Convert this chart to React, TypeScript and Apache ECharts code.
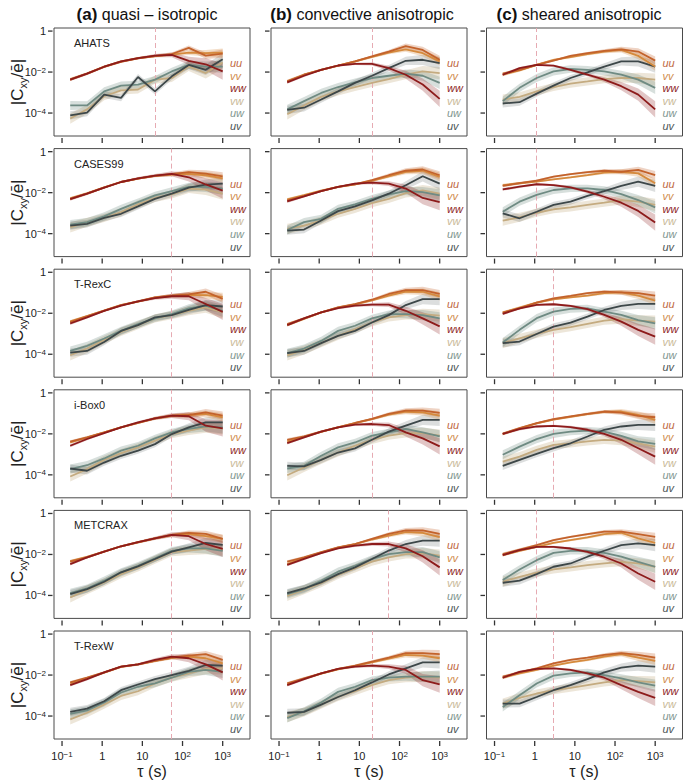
import React, { useEffect, useRef } from 'react';
import * as echarts from 'echarts';

// ---------- data ----------
const TAU = [0.16, 0.42, 1.12, 2.95, 7.8, 20.6, 54, 143, 378, 1000]; // s
const COMPONENTS = ['uu', 'vv', 'ww', 'vw', 'uw', 'uv'];
const DATASETS = ['AHATS', 'CASES99', 'T-RexC', 'i-Box0', 'METCRAX', 'T-RexW'];
const COLUMN_TAGS = ['(a)', '(b)', '(c)'];
const COLUMN_NAMES = ['quasi – isotropic', 'convective anisotropic', 'sheared anisotropic'];
const X_TICKS = [-1, 0, 1, 2, 3]; // log10 tau
const Y_TICKS = [-4, -2, 0]; // log10 |C|
// reference time scale (dashed line) per row, per column
const REF_TAU = [
  [20.6, 20.6, 1.12],
  [54, 20.6, 1.12],
  [54, 20.6, 2.95],
  [54, 20.6, 2.95],
  [54, 54, 1.12],
  [54, 20.6, 2.95],
];

// values are log10 |C_xy / e|, order: uu, vv, ww, vw, uw, uv
const AHATS_QI = [
  [-2.37, -2.08, -1.75, -1.5, -1.33, -1.22, -1.12, -0.82, -1.2, -1.1],
  [-2.35, -2.07, -1.73, -1.48, -1.32, -1.22, -1.15, -1.05, -1.08, -1.05],
  [-2.37, -2.08, -1.74, -1.48, -1.32, -1.2, -1.16, -1.45, -1.62, -1.97],
  [-4.27, -3.82, -3.18, -2.89, -2.85, -2.37, -2.29, -1.73, -2.05, -1.53],
  [-3.63, -3.63, -2.94, -2.66, -2.61, -2.37, -1.97, -1.65, -1.73, -1.73],
  [-4.11, -3.98, -3.1, -3.26, -2.24, -2.94, -2.21, -1.65, -1.89, -1.37],
];
const AHATS_CA = [
  [-2.45, -2.13, -1.89, -1.69, -1.48, -1.24, -1.0, -0.73, -0.92, -1.4],
  [-2.45, -2.13, -1.89, -1.69, -1.48, -1.26, -1.05, -0.89, -1.08, -1.48],
  [-2.5, -2.18, -1.89, -1.68, -1.6, -1.6, -1.81, -2.13, -2.61, -3.31],
  [-4.06, -3.63, -3.21, -2.94, -2.73, -2.53, -2.34, -2.13, -1.97, -2.05],
  [-3.82, -3.42, -3.02, -2.73, -2.5, -2.29, -2.18, -2.08, -2.18, -2.53],
  [-3.85, -3.74, -3.34, -2.94, -2.53, -2.18, -1.81, -1.45, -1.4, -1.56],
];
const AHATS_SA = [
  [-2.08, -1.89, -1.65, -1.44, -1.21, -1.08, -0.97, -0.89, -1.0, -1.44],
  [-2.13, -1.92, -1.65, -1.4, -1.27, -1.13, -1.0, -0.92, -1.21, -1.73],
  [-2.13, -1.81, -1.65, -1.69, -1.89, -2.13, -2.37, -2.69, -3.1, -3.82],
  [-3.34, -3.21, -2.94, -2.73, -2.56, -2.45, -2.34, -2.29, -2.29, -2.37],
  [-3.42, -2.77, -2.29, -1.97, -1.85, -1.89, -1.97, -2.13, -2.37, -2.77],
  [-3.53, -3.47, -3.05, -2.66, -2.29, -2.02, -1.73, -1.48, -1.48, -1.73],
];
const CASES99_QI = [
  [-2.3, -2.05, -1.75, -1.48, -1.31, -1.18, -1.1, -1.0, -1.07, -1.2],
  [-2.28, -2.03, -1.74, -1.48, -1.31, -1.18, -1.12, -1.08, -1.15, -1.3],
  [-2.32, -2.05, -1.75, -1.48, -1.3, -1.17, -1.08, -1.25, -1.6, -1.9],
  [-3.69, -3.44, -3.23, -2.95, -2.57, -2.26, -2.08, -1.8, -1.85, -2.05],
  [-3.56, -3.44, -3.16, -2.79, -2.46, -2.13, -1.92, -1.72, -1.72, -1.8],
  [-3.61, -3.52, -3.23, -3.03, -2.67, -2.3, -2.05, -1.75, -1.61, -1.56],
];
const CASES99_CA = [
  [-2.38, -2.16, -1.92, -1.72, -1.59, -1.39, -1.15, -0.93, -0.87, -1.15],
  [-2.33, -2.12, -1.9, -1.72, -1.6, -1.42, -1.2, -0.98, -0.93, -1.23],
  [-2.43, -2.18, -1.92, -1.72, -1.56, -1.51, -1.56, -1.8, -2.26, -2.46],
  [-3.77, -3.61, -3.36, -3.03, -2.79, -2.51, -2.3, -2.02, -1.89, -2.05],
  [-3.82, -3.44, -3.28, -2.79, -2.57, -2.3, -2.08, -1.92, -1.97, -2.13],
  [-3.85, -3.8, -3.36, -2.9, -2.67, -2.38, -2.05, -1.64, -1.2, -1.56],
];
const CASES99_SA = [
  [-1.67, -1.54, -1.41, -1.22, -1.1, -1.0, -0.93, -0.98, -0.89, -1.14],
  [-1.63, -1.54, -1.46, -1.35, -1.25, -1.14, -1.02, -0.98, -1.06, -1.54],
  [-1.84, -1.71, -1.59, -1.63, -1.74, -1.95, -2.2, -2.49, -2.89, -3.46],
  [-3.37, -3.2, -2.98, -2.81, -2.72, -2.6, -2.49, -2.36, -2.44, -2.6],
  [-2.93, -2.44, -2.11, -1.87, -1.79, -1.79, -1.87, -2.07, -2.36, -2.72],
  [-3.01, -3.25, -2.93, -2.6, -2.44, -2.16, -1.92, -1.67, -1.46, -1.67],
];
const TREXC_QI = [
  [-2.43, -2.15, -1.87, -1.6, -1.42, -1.23, -1.14, -1.08, -0.95, -1.3],
  [-2.4, -2.14, -1.87, -1.6, -1.43, -1.24, -1.15, -1.1, -1.12, -1.2],
  [-2.5, -2.2, -1.88, -1.63, -1.42, -1.26, -1.17, -1.17, -1.55, -1.93],
  [-4.05, -3.72, -3.3, -2.91, -2.58, -2.25, -2.09, -1.88, -1.71, -1.96],
  [-3.84, -3.59, -3.23, -2.86, -2.53, -2.25, -2.04, -1.76, -1.63, -1.88],
  [-3.92, -3.84, -3.4, -2.86, -2.58, -2.2, -2.09, -1.83, -1.6, -1.67],
];
const TREXC_CA = [
  [-2.53, -2.25, -1.96, -1.71, -1.55, -1.34, -1.06, -0.87, -0.87, -1.06],
  [-2.58, -2.27, -1.96, -1.72, -1.57, -1.37, -1.14, -0.95, -0.95, -1.18],
  [-2.58, -2.25, -1.96, -1.75, -1.63, -1.58, -1.58, -1.88, -2.25, -2.64],
  [-4.05, -3.79, -3.46, -3.1, -2.78, -2.45, -2.2, -2.09, -2.04, -2.12],
  [-3.95, -3.72, -3.35, -2.86, -2.61, -2.25, -2.04, -2.04, -2.09, -2.25],
  [-3.95, -3.84, -3.46, -3.1, -2.86, -2.45, -2.09, -1.6, -1.31, -1.31],
];
const TREXC_SA = [
  [-1.97, -1.76, -1.48, -1.27, -1.15, -1.02, -0.94, -0.98, -1.02, -1.14],
  [-1.97, -1.72, -1.48, -1.32, -1.22, -1.14, -1.02, -0.98, -1.14, -1.38],
  [-2.03, -1.76, -1.59, -1.56, -1.64, -1.8, -2.08, -2.41, -2.81, -3.14],
  [-3.46, -3.22, -3.01, -2.81, -2.68, -2.52, -2.36, -2.29, -2.36, -2.41],
  [-3.43, -2.81, -2.24, -1.92, -1.79, -1.76, -1.92, -2.08, -2.33, -2.49],
  [-3.46, -3.38, -3.01, -2.65, -2.46, -2.16, -1.84, -1.64, -1.54, -1.54],
];
const IBOX_QI = [
  [-2.38, -2.17, -1.93, -1.68, -1.47, -1.24, -1.11, -1.08, -0.95, -1.11],
  [-2.41, -2.18, -1.93, -1.68, -1.47, -1.25, -1.12, -1.08, -1.03, -1.19],
  [-2.58, -2.25, -1.96, -1.68, -1.44, -1.24, -1.11, -1.14, -1.6, -1.73],
  [-4.08, -3.72, -3.27, -2.94, -2.66, -2.33, -2.01, -1.84, -1.68, -1.73],
  [-3.72, -3.53, -3.2, -2.82, -2.58, -2.22, -1.93, -1.76, -1.63, -1.68],
  [-3.69, -3.8, -3.4, -3.07, -2.82, -2.5, -2.01, -1.68, -1.44, -1.44],
];
const IBOX_CA = [
  [-2.29, -2.12, -1.89, -1.68, -1.47, -1.27, -1.03, -0.87, -0.87, -0.98],
  [-2.38, -2.15, -1.9, -1.68, -1.48, -1.28, -1.06, -0.92, -0.95, -1.11],
  [-2.45, -2.17, -1.89, -1.68, -1.55, -1.52, -1.57, -1.93, -2.22, -2.61],
  [-4.02, -3.64, -3.27, -2.91, -2.58, -2.29, -2.09, -1.96, -1.96, -2.09],
  [-3.69, -3.56, -3.07, -2.66, -2.42, -2.09, -1.93, -1.76, -1.93, -2.12],
  [-3.56, -3.59, -3.27, -2.91, -2.71, -2.29, -1.89, -1.6, -1.32, -1.32],
];
const IBOX_SA = [
  [-2.0, -1.72, -1.48, -1.28, -1.15, -1.02, -0.91, -0.96, -1.12, -1.19],
  [-2.0, -1.74, -1.49, -1.3, -1.17, -1.04, -0.93, -0.91, -1.07, -1.32],
  [-2.0, -1.77, -1.64, -1.61, -1.67, -1.8, -2.0, -2.29, -2.7, -3.11],
  [-3.35, -3.11, -2.78, -2.54, -2.46, -2.37, -2.29, -2.33, -2.46, -2.62],
  [-3.02, -2.62, -2.26, -2.0, -1.89, -1.84, -1.89, -2.1, -2.37, -2.49],
  [-3.56, -3.27, -2.98, -2.7, -2.46, -2.13, -1.8, -1.64, -1.56, -1.56],
];
const METCRAX_QI = [
  [-2.35, -2.14, -1.86, -1.6, -1.4, -1.21, -1.04, -0.95, -1.0, -1.24],
  [-2.33, -2.12, -1.86, -1.6, -1.41, -1.22, -1.06, -1.0, -1.11, -1.24],
  [-2.47, -2.14, -1.86, -1.6, -1.4, -1.21, -1.04, -1.11, -1.49, -1.73],
  [-4.1, -3.72, -3.36, -2.96, -2.63, -2.25, -1.89, -1.81, -1.73, -1.76],
  [-3.89, -3.66, -3.28, -2.87, -2.55, -2.19, -1.82, -1.7, -1.7, -1.82],
  [-3.93, -3.69, -3.33, -2.87, -2.58, -2.22, -1.86, -1.65, -1.44, -1.53],
];
const METCRAX_CA = [
  [-2.35, -2.14, -1.89, -1.65, -1.49, -1.24, -1.0, -0.83, -0.83, -1.0],
  [-2.47, -2.16, -1.91, -1.67, -1.5, -1.27, -1.08, -0.91, -0.95, -1.16],
  [-2.51, -2.22, -1.93, -1.7, -1.57, -1.49, -1.49, -1.7, -2.09, -2.63],
  [-4.02, -3.72, -3.4, -3.0, -2.68, -2.35, -2.14, -1.98, -1.94, -2.06],
  [-3.93, -3.69, -3.28, -2.84, -2.55, -2.22, -1.98, -1.89, -1.89, -2.14],
  [-3.89, -3.66, -3.36, -2.96, -2.63, -2.22, -1.81, -1.49, -1.32, -1.32],
];
const METCRAX_SA = [
  [-1.98, -1.76, -1.54, -1.3, -1.14, -1.01, -0.89, -0.89, -1.01, -1.14],
  [-2.03, -1.82, -1.63, -1.43, -1.3, -1.17, -1.01, -0.94, -1.22, -1.43],
  [-2.03, -1.79, -1.63, -1.63, -1.71, -1.87, -2.11, -2.44, -2.93, -3.33],
  [-3.33, -3.09, -2.89, -2.73, -2.63, -2.52, -2.44, -2.36, -2.44, -2.6],
  [-3.25, -2.73, -2.28, -1.92, -1.82, -1.82, -1.92, -2.11, -2.36, -2.6],
  [-3.38, -3.28, -2.96, -2.6, -2.44, -2.11, -1.82, -1.54, -1.46, -1.54],
];
const TREXW_QI = [
  [-2.36, -2.13, -1.87, -1.59, -1.48, -1.31, -1.15, -1.05, -0.98, -1.26],
  [-2.41, -2.15, -1.88, -1.6, -1.48, -1.31, -1.16, -1.1, -1.18, -1.43],
  [-2.49, -2.2, -1.87, -1.59, -1.48, -1.26, -1.1, -1.18, -1.48, -1.87],
  [-4.16, -3.84, -3.44, -3.02, -2.79, -2.41, -2.13, -1.92, -1.7, -1.67],
  [-3.89, -3.72, -3.34, -2.85, -2.57, -2.41, -2.13, -1.84, -1.75, -1.84],
  [-3.8, -3.64, -3.28, -2.74, -2.46, -2.2, -2.0, -1.8, -1.51, -1.54],
];
const TREXW_CA = [
  [-2.41, -2.16, -1.92, -1.7, -1.54, -1.34, -1.15, -0.93, -0.93, -0.98],
  [-2.46, -2.18, -1.93, -1.72, -1.56, -1.38, -1.2, -1.02, -1.05, -1.18],
  [-2.49, -2.2, -1.92, -1.7, -1.59, -1.54, -1.59, -1.75, -2.25, -2.46],
  [-4.05, -3.8, -3.44, -3.07, -2.79, -2.49, -2.25, -2.13, -2.08, -2.13],
  [-4.1, -3.77, -3.34, -2.82, -2.57, -2.25, -2.13, -2.08, -2.08, -2.08],
  [-3.84, -3.8, -3.44, -3.07, -2.74, -2.36, -1.97, -1.67, -1.38, -1.38],
];
const TREXW_SA = [
  [-2.08, -1.87, -1.67, -1.43, -1.26, -1.15, -1.02, -0.93, -1.02, -1.15],
  [-2.13, -1.92, -1.75, -1.54, -1.38, -1.26, -1.1, -0.98, -1.15, -1.31],
  [-2.13, -1.84, -1.7, -1.67, -1.75, -1.92, -2.13, -2.49, -2.82, -3.11],
  [-3.39, -3.11, -2.9, -2.74, -2.62, -2.49, -2.36, -2.25, -2.3, -2.36],
  [-3.56, -2.98, -2.41, -2.03, -1.92, -1.87, -2.0, -2.16, -2.36, -2.52],
  [-3.39, -3.39, -3.07, -2.74, -2.49, -2.2, -1.87, -1.64, -1.54, -1.59],
];

// uncertainty half-widths in decades, per component
const BAND_UU = [0.07, 0.06, 0.05, 0.05, 0.05, 0.06, 0.08, 0.12, 0.16, 0.2];
const BAND_VV = [0.07, 0.06, 0.05, 0.05, 0.05, 0.06, 0.08, 0.12, 0.16, 0.2];
const BAND_WW = [0.07, 0.06, 0.05, 0.05, 0.06, 0.08, 0.12, 0.2, 0.3, 0.4];
const BAND_VW = [0.25, 0.22, 0.2, 0.2, 0.2, 0.2, 0.2, 0.22, 0.26, 0.3];
const BAND_UW = [0.22, 0.2, 0.2, 0.2, 0.18, 0.18, 0.18, 0.2, 0.25, 0.3];
const BAND_UV = [0.2, 0.18, 0.16, 0.16, 0.15, 0.15, 0.16, 0.2, 0.25, 0.3];

const PANELS = [
  [AHATS_QI, AHATS_CA, AHATS_SA],
  [CASES99_QI, CASES99_CA, CASES99_SA],
  [TREXC_QI, TREXC_CA, TREXC_SA],
  [IBOX_QI, IBOX_CA, IBOX_SA],
  [METCRAX_QI, METCRAX_CA, METCRAX_SA],
  [TREXW_QI, TREXW_CA, TREXW_SA],
];
const BANDS = [BAND_UU, BAND_VV, BAND_WW, BAND_VW, BAND_UW, BAND_UV];

// ---------- styles ----------
const LINE_COLORS = ['#c3622b', '#d58a3d', '#8d1b1b', '#c4ab80', '#6f8b83', '#3d4749'];
const BAND_COLORS = [
  'rgba(195,98,43,0.28)',
  'rgba(213,138,61,0.28)',
  'rgba(141,27,27,0.25)',
  'rgba(196,171,128,0.3)',
  'rgba(111,139,131,0.28)',
  'rgba(61,71,73,0.18)',
];
const LABEL_COLORS = ['#c0693f', '#d08c4c', '#8d1b1b', '#c9b997', '#7f968f', '#4a5354'];
const DRAW_ORDER = [3, 4, 5, 1, 0, 2];

const FONT = '"Liberation Sans", Arial, Helvetica, sans-serif';
const COL_LEFT = [54, 271, 486.5];
const GRID_W = 196;
const ROW_TOP0 = 28;
const ROW_STEP = 120.6;
const GRID_H = 108;
const X_MIN = -1.2;
const X_MAX = 3.68;
const Y_MIN = -5.12;
const Y_MAX = 0.15;

function powLabel(v: number): string {
  if (v === 0) return '1';
  if (v === 1) return '10';
  const s = v < 0 ? '\u2212' + Math.abs(v) : String(v);
  return '10{s|' + s + '}';
}

const LABEL_RICH = {
  s: { fontSize: 8, verticalAlign: 'top', lineHeight: 12, fontFamily: FONT, color: '#222' },
};

function buildOption() {
  const grid: any[] = [];
  const xAxis: any[] = [];
  const yAxis: any[] = [];
  const series: any[] = [];
  const graphic: any[] = [];

  for (let r = 0; r < 6; r++) {
    for (let c = 0; c < 3; c++) {
      const idx = r * 3 + c;
      const top = ROW_TOP0 + ROW_STEP * r;
      const left = COL_LEFT[c];
      grid.push({
        left,
        top,
        width: GRID_W,
        height: GRID_H,
        show: true,
        borderColor: '#4a4a4a',
        borderWidth: 1,
        backgroundColor: 'transparent',
      });
      xAxis.push({
        type: 'value',
        gridIndex: idx,
        position: 'bottom',
        min: X_MIN,
        max: X_MAX,
        axisLine: { show: false, onZero: false },
        splitLine: { show: false },
        axisTick: { show: false },
        axisLabel: {
          show: r === 5,
          customValues: X_TICKS,
          formatter: (v: number) => powLabel(Math.round(v)),
          rich: LABEL_RICH,
          fontSize: 11,
          lineHeight: 12,
          color: '#222',
          fontFamily: FONT,
          margin: 11,
        },
      });
      yAxis.push({
        type: 'value',
        gridIndex: idx,
        position: 'left',
        min: Y_MIN,
        max: Y_MAX,
        axisLine: { show: false, onZero: false },
        splitLine: { show: false },
        axisTick: { show: false },
        axisLabel: {
          show: c === 0,
          customValues: Y_TICKS,
          formatter: (v: number) => powLabel(Math.round(v)),
          rich: LABEL_RICH,
          fontSize: 11,
          lineHeight: 12,
          color: '#222',
          fontFamily: FONT,
          margin: 8,
        },
      });

      const panel = PANELS[r][c];
      // tick marks (outward, offset from the box, R style), placed through the axes' scales
      series.push({
        type: 'custom',
        xAxisIndex: idx,
        yAxisIndex: idx,
        z: 4,
        silent: true,
        clip: false,
        data: [[0, -2]],
        renderItem: (_params: any, api: any) => {
          const children: any[] = [];
          X_TICKS.forEach((v) => {
            const p = api.coord([v, Y_MIN]);
            children.push({
              type: 'line',
              shape: { x1: p[0], y1: p[1] + 2, x2: p[0], y2: p[1] + 7 },
              style: { stroke: '#333333', lineWidth: 1.3 },
            });
          });
          Y_TICKS.forEach((v) => {
            const p = api.coord([X_MIN, v]);
            children.push({
              type: 'line',
              shape: { x1: p[0] - 6, y1: p[1], x2: p[0] - 1.5, y2: p[1] },
              style: { stroke: '#333333', lineWidth: 1.3 },
            });
          });
          return { type: 'group', children };
        },
      });
      // uncertainty bands
      series.push({
        type: 'custom',
        xAxisIndex: idx,
        yAxisIndex: idx,
        z: 1,
        silent: true,
        data: [[0, -2]],
        renderItem: (_params: any, api: any) => {
          const children = DRAW_ORDER.map((k) => {
            const vals = panel[k];
            const bw = BANDS[k];
            const upper = TAU.map((t, i) => api.coord([Math.log10(t), vals[i] + bw[i]]));
            const lower = TAU.map((t, i) => api.coord([Math.log10(t), vals[i] - bw[i]])).reverse();
            return {
              type: 'polygon',
              shape: { points: upper.concat(lower) },
              style: { fill: BAND_COLORS[k] },
              silent: true,
            };
          });
          return { type: 'group', children };
        },
      });
      // lines
      DRAW_ORDER.forEach((k, j) => {
        const s: any = {
          type: 'line',
          name: COMPONENTS[k],
          xAxisIndex: idx,
          yAxisIndex: idx,
          z: 3,
          showSymbol: false,
          silent: true,
          lineStyle: { color: LINE_COLORS[k], width: 1.8 },
          itemStyle: { color: LINE_COLORS[k] },
          data: TAU.map((t, i) => [Math.log10(t), panel[k][i]]),
        };
        if (j === 0) {
          s.markLine = {
            silent: true,
            symbol: ['none', 'none'],
            label: { show: false },
            lineStyle: { color: '#e6aab2', type: [5, 3], width: 1 },
            data: [{ xAxis: Math.log10(REF_TAU[r][c]) }],
            z: 2,
          };
        }
        series.push(s);
      });

      // component labels
      COMPONENTS.forEach((name, k) => {
        graphic.push({
          type: 'text',
          x: left + 176,
          y: top + 35 + 12.6 * k,
          z: 10,
          style: {
            text: name,
            fill: LABEL_COLORS[k],
            fontSize: 11,
            fontStyle: 'italic',
            fontFamily: FONT,
            verticalAlign: 'middle',
            align: 'left',
          },
        });
      });
    }
    // dataset name
    const top = ROW_TOP0 + ROW_STEP * r;
    graphic.push({
      type: 'text',
      x: 74,
      y: top + 15,
      z: 10,
      style: { text: DATASETS[r], fill: '#222', fontSize: 11, fontFamily: FONT, verticalAlign: 'middle' },
    });
    // y axis title
    graphic.push({
      type: 'text',
      x: 17,
      y: top + GRID_H / 2,
      rotation: Math.PI / 2,
      z: 10,
      style: {
        text: '|C{sub|xy}/ē|',
        fill: '#222',
        fontSize: 17,
        fontFamily: FONT,
        align: 'center',
        verticalAlign: 'middle',
        rich: { sub: { fontSize: 11, fontFamily: FONT, fill: '#222', verticalAlign: 'bottom', lineHeight: 22 } },
      },
    });
  }

  // column titles
  const titleX = [147, 362, 579];
  const xTitleX = [152, 369, 584];
  for (let c = 0; c < 3; c++) {
    graphic.push({
      type: 'text',
      x: titleX[c],
      y: 14,
      z: 10,
      style: {
        text: '{b|' + COLUMN_TAGS[c] + '} ' + COLUMN_NAMES[c],
        fill: '#111',
        fontSize: 16,
        fontFamily: FONT,
        align: 'center',
        verticalAlign: 'middle',
        rich: { b: { fontSize: 17, fontWeight: 'bold', fontFamily: FONT, fill: '#111' } },
      },
    });
    graphic.push({
      type: 'text',
      x: xTitleX[c],
      y: 771,
      z: 10,
      style: {
        text: 'τ (s)',
        fill: '#222',
        fontSize: 16,
        fontFamily: FONT,
        align: 'center',
        verticalAlign: 'middle',
      },
    });
  }

  return {
    animation: false,
    backgroundColor: '#ffffff',
    textStyle: { fontFamily: FONT },
    grid,
    xAxis,
    yAxis,
    series,
    graphic,
  };
}

export default function App() {
  const ref = useRef<HTMLDivElement>(null);
  useEffect(() => {
    if (!ref.current) return;
    const chart = echarts.init(ref.current, undefined, { renderer: 'svg' });
    chart.setOption(buildOption() as any);
    return () => chart.dispose();
  }, []);
  return (
    <div
      ref={ref}
      style={{ position: 'fixed', left: 0, top: 0, width: 685, height: 780, background: '#fff' }}
    />
  );
}
